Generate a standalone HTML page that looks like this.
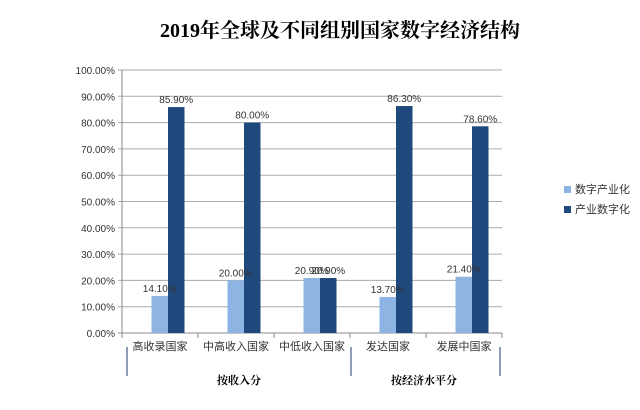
<!DOCTYPE html>
<html><head><meta charset="utf-8"><style>
body{margin:0;background:#fff;}
svg text{font-family:"Liberation Sans","Noto Sans CJK SC",sans-serif;}
</style></head><body>
<svg width="640" height="405" viewBox="0 0 640 405">
<rect width="640" height="405" fill="#fff"/>
<text x="340" y="37" text-anchor="middle" font-size="20" font-weight="bold" style="font-family:'Liberation Serif','Noto Serif CJK SC',serif">2019年全球及不同组别国家数字经济结构</text>
<g id="grid"></g><g id="bars"></g><g id="labels"></g>
<g>
<rect x="564" y="186" width="7" height="7" fill="#8eb4e3"/>
<text x="575" y="193" font-size="11" fill="#333">数字产业化</text>
<rect x="564" y="206" width="7" height="7" fill="#1f497d"/>
<text x="575" y="213" font-size="11" fill="#333">产业数字化</text>
</g>
<g stroke="#1f3a6e" stroke-width="1">
<line x1="127" y1="347" x2="127" y2="376"/><line x1="351" y1="347" x2="351" y2="376"/><line x1="500" y1="347" x2="500" y2="376"/>
</g>
<text x="239" y="384" text-anchor="middle" font-size="11" font-weight="bold" style="font-family:'Liberation Serif','Noto Serif CJK SC',serif">按收入分</text>
<text x="424" y="384" text-anchor="middle" font-size="11" font-weight="bold" style="font-family:'Liberation Serif','Noto Serif CJK SC',serif">按经济水平分</text>
</svg>
<script>
const categories=["高收录国家","中高收入国家","中低收入国家","发达国家","发展中国家"];
const digitalIndustrialization=[14.1,20.0,20.9,13.7,21.4];
const industrialDigitalization=[85.9,80.0,20.9,86.3,78.6];
const yTicks=[0,10,20,30,40,50,60,70,80,90,100];
const NS="http://www.w3.org/2000/svg";
const X0=122,X1=502,Y0=333,Y1=70,barW=16.5;
const catW=(X1-X0)/categories.length;
const y=v=>Y0-(v/100)*(Y0-Y1);
const xc=i=>X0+catW*(i+0.5)+8;
function mk(t,a,p){const e=document.createElementNS(NS,t);for(const k in a)e.setAttribute(k,a[k]);p.appendChild(e);return e;}
const grid=document.getElementById('grid'),bars=document.getElementById('bars'),labels=document.getElementById('labels');
yTicks.forEach(v=>{
 const l=mk('line',{x1:X0-4,x2:X1,y1:y(v),y2:y(v),stroke:v===0?'#888':'#aaa','stroke-width':1},grid);
 
 
 const t=mk('text',{x:X0-7,y:y(v)+4,'text-anchor':'end','font-size':10,fill:'#333'},grid);
 t.textContent=v.toFixed(2)+'%';
 
 
});
const ax=mk('line',{x1:X0,x2:X0,y1:Y1,y2:Y0,stroke:'#888'},grid);


for(let i=0;i<=categories.length;i++){
 const tk=mk('line',{x1:X0+catW*i,x2:X0+catW*i,y1:Y0,y2:Y0+5,stroke:'#888'},grid);
 
 
}
categories.forEach((c,i)=>{
 const cx=xc(i);
 const v1=digitalIndustrialization[i],v2=industrialDigitalization[i];
 const b1=mk('rect',{x:cx-barW,y:y(v1),width:barW,height:Y0-y(v1),fill:'#8eb4e3'},bars);
 
 
 const b2=mk('rect',{x:cx,y:y(v2),width:barW,height:Y0-y(v2),fill:'#1f497d'},bars);
 
 
 const t1=mk('text',{x:cx-barW/2,y:y(v1)-4,'text-anchor':'middle','font-size':10,fill:'#333'},labels);
 t1.textContent=v1.toFixed(2)+'%';
 
 
 const t2=mk('text',{x:cx+barW/2,y:y(v2)-4,'text-anchor':'middle','font-size':10,fill:'#333'},labels);
 t2.textContent=v2.toFixed(2)+'%';
 
 
 const cl=mk('text',{x:X0+catW*(i+0.5),y:350,'text-anchor':'middle','font-size':11,fill:'#333'},labels);
 cl.textContent=c;
 
 
});
</script>
</body></html>
